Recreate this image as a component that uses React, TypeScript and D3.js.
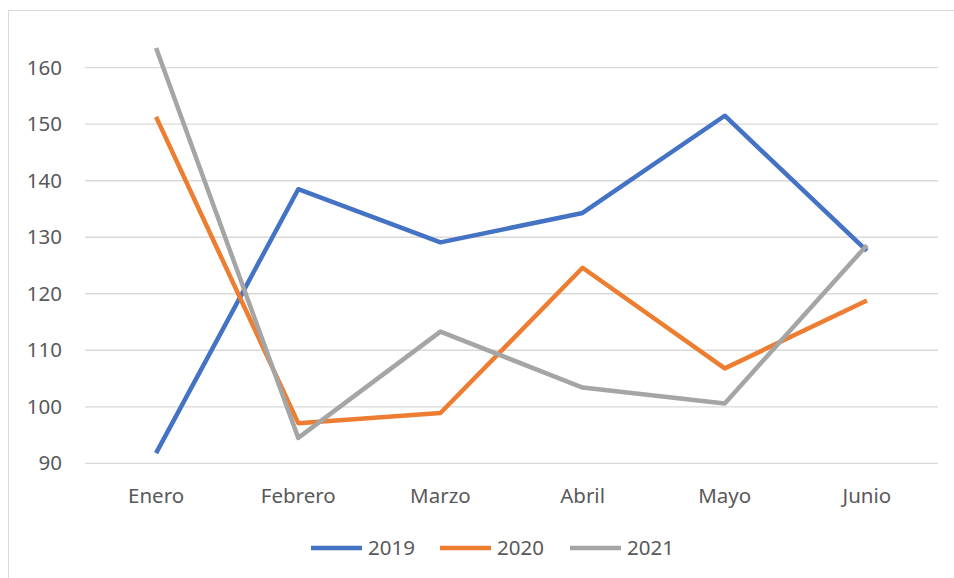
import React from "react";
import * as d3 from "d3";

const months = ["Enero", "Febrero", "Marzo", "Abril", "Mayo", "Junio"];
const series2019 = [91.8, 138.5, 129.1, 134.3, 151.5, 127.6];
const series2020 = [151.3, 97.1, 98.9, 124.6, 106.8, 118.8];
const series2021 = [163.5, 94.5, 113.3, 103.4, 100.6, 128.6];
const yTicks = [90, 100, 110, 120, 130, 140, 150, 160];
const seriesNames = ["2019", "2020", "2021"];
const colors = ["#4472C4", "#ED7D31", "#A5A5A5"];

export default function App() {
  const W = 954, H = 578;
  const left = 85, right = 938, top = 67.7, bottom = 463.3;
  const x = d3.scaleBand().domain(months).range([left, right]);
  const y = d3.scaleLinear().domain([90, 160]).range([bottom, top]);
  const line = d3
    .line<number>()
    .x((_, i) => (x(months[i]) as number) + x.bandwidth() / 2)
    .y((d) => y(d));
  const all = [series2019, series2020, series2021];
  const font = "'Noto Sans', 'Open Sans', sans-serif";
  const fs = 20.5;
  const legendX = [311, 440, 570];
  return (
    <svg
      width={W}
      height={H}
      style={{ position: "absolute", left: 0, top: 0, background: "#fff" }}
    >
      <rect x={8.5} y={10.5} width={1000} height={1000} fill="#fff" stroke="#D9D9D9" strokeWidth={1} />
      {yTicks.map((t) => (
        <g key={t}>
          <line x1={left} x2={right} y1={y(t)} y2={y(t)} stroke="#D9D9D9" strokeWidth={1.3} />
          <text
            x={62}
            y={y(t)}
            dy="0.35em"
            textAnchor="end"
            fontFamily={font}
            fontSize={fs}
            fill="#595959"
          >
            {t}
          </text>
        </g>
      ))}
      {months.map((m) => (
        <text
          key={m}
          x={(x(m) as number) + x.bandwidth() / 2}
          y={496}
          dy="0.35em"
          textAnchor="middle"
          fontFamily={font}
          fontSize={fs}
          fill="#595959"
        >
          {m}
        </text>
      ))}
      {all.map((s, i) => (
        <path
          key={i}
          d={line(s) || ""}
          fill="none"
          stroke={colors[i]}
          strokeWidth={4.5}
          strokeLinejoin="round"
        />
      ))}
      {seriesNames.map((n, i) => (
        <g key={n}>
          <line
            x1={legendX[i]}
            x2={legendX[i] + 51}
            y1={548}
            y2={548}
            stroke={colors[i]}
            strokeWidth={4.5}
          />
          <text
            x={legendX[i] + 57}
            y={548}
            dy="0.35em"
            fontFamily={font}
            fontSize={fs}
            fill="#595959"
          >
            {n}
          </text>
        </g>
      ))}
    </svg>
  );
}
